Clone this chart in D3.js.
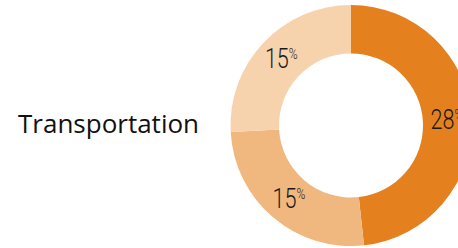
<!DOCTYPE html>
<html>
<head>
<meta charset="utf-8">
<script src="https://cdn.jsdelivr.net/npm/d3@7"></script>
<style>
  body { margin: 0; background: #fff; }
  svg { display: block; }
</style>
</head>
<body>
<div id="chart"></div>
<script>
// Data
const title = "Transportation";
const segments = ["A", "B", "C"];
const values = [28, 15, 15];
const colors = ["#E4811E", "#F0B77F", "#F6D2AD"];

const width = 458, height = 248;
const cx = 351, cy = 125.5;
const outerR = 120.5, innerR = 72;

const svg = d3.select("#chart").append("svg")
    .attr("width", width)
    .attr("height", height);

// Title on the left
svg.append("text")
    .attr("x", 18)
    .attr("y", 133)
    .attr("font-family", "'Open Sans', sans-serif")
    .attr("font-size", 26)
    .attr("fill", "#111")
    .style("font-variant-ligatures", "none")
    .text(title);

const pie = d3.pie().sort(null).value(d => d);
const arc = d3.arc().innerRadius(innerR).outerRadius(outerR);
const labelArc = d3.arc().innerRadius(96).outerRadius(96);

const g = svg.append("g").attr("transform", `translate(${cx},${cy})`);
const arcs = pie(values);

g.selectAll("path")
    .data(arcs)
    .enter()
    .append("path")
    .attr("d", arc)
    .attr("fill", (d, i) => colors[i]);

// Labels with small raised percent sign (condensed look via horizontal scale)
const labels = g.selectAll(".label")
    .data(arcs)
    .enter()
    .append("text")
    .attr("class", "label")
    .attr("transform", d => {
        const [x, y] = labelArc.centroid(d);
        return `translate(${x},${y + 9}) scale(0.8,1)`;
    })
    .attr("text-anchor", "middle")
    .attr("font-family", "Roboto, sans-serif")
    .attr("font-weight", 300)
    .attr("font-size", 27)
    .attr("fill", "#1a1a1a");

labels.append("tspan").text(d => d.data);
labels.append("tspan")
    .attr("font-size", 15)
    .attr("dy", -9)
    .text("%");
</script>
</body>
</html>
